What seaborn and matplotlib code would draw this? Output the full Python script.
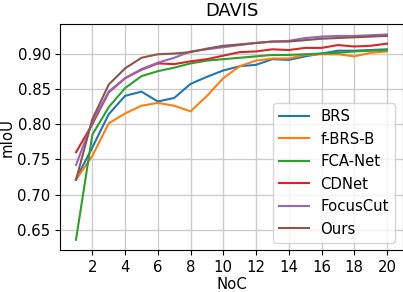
import numpy as np
import matplotlib
matplotlib.use("Agg")
import matplotlib.pyplot as plt
import pandas as pd
import seaborn as sns

noc = list(range(1, 21))

brs = [0.722, 0.767, 0.814, 0.840, 0.846, 0.832, 0.837, 0.857, 0.867, 0.876,
       0.882, 0.884, 0.892, 0.891, 0.896, 0.900, 0.904, 0.904, 0.905, 0.906]
fbrs = [0.721, 0.755, 0.801, 0.815, 0.826, 0.830, 0.826, 0.818, 0.840, 0.865,
        0.882, 0.890, 0.893, 0.893, 0.898, 0.899, 0.899, 0.896, 0.901, 0.903]
fca = [0.636, 0.785, 0.824, 0.851, 0.868, 0.875, 0.880, 0.886, 0.890, 0.892,
       0.894, 0.896, 0.898, 0.898, 0.899, 0.900, 0.901, 0.903, 0.904, 0.905]
cdnet = [0.760, 0.800, 0.845, 0.865, 0.877, 0.886, 0.885, 0.889, 0.892, 0.897,
         0.902, 0.903, 0.906, 0.905, 0.908, 0.908, 0.912, 0.910, 0.911, 0.914]
focus = [0.742, 0.803, 0.846, 0.865, 0.878, 0.887, 0.894, 0.903, 0.906, 0.909,
         0.912, 0.915, 0.917, 0.918, 0.922, 0.924, 0.925, 0.925, 0.926, 0.927]
ours = [0.721, 0.807, 0.856, 0.879, 0.894, 0.899, 0.900, 0.902, 0.907, 0.911,
        0.913, 0.915, 0.917, 0.917, 0.919, 0.921, 0.922, 0.923, 0.924, 0.925]

methods = ["BRS", "f-BRS-B", "FCA-Net", "CDNet", "FocusCut", "Ours"]
series = [brs, fbrs, fca, cdnet, focus, ours]

df = pd.concat([pd.DataFrame({"NoC": noc, "mIoU": s, "method": m})
                for m, s in zip(methods, series)])

plt.rcParams["font.size"] = 10.75

fig, ax = plt.subplots(figsize=(4.03, 2.92), dpi=100)
sns.lineplot(data=df, x="NoC", y="mIoU", hue="method", hue_order=methods,
             palette="tab10", linewidth=1.5, ax=ax)
ax.grid(True, color="#cccccc", linewidth=1.0)
ax.set_axisbelow(True)
ax.set_xticks(range(2, 21, 2))
ax.set_title("DAVIS", fontsize=12.9)
ax.set_xlabel("NoC", labelpad=1.5)
ax.set_ylabel("mIoU", labelpad=2)
ax.legend(loc="lower right", fontsize=10.75)

plt.subplots_adjust(left=0.150, right=0.9988, top=0.917, bottom=0.1438)
plt.savefig("out.png", dpi=100)
